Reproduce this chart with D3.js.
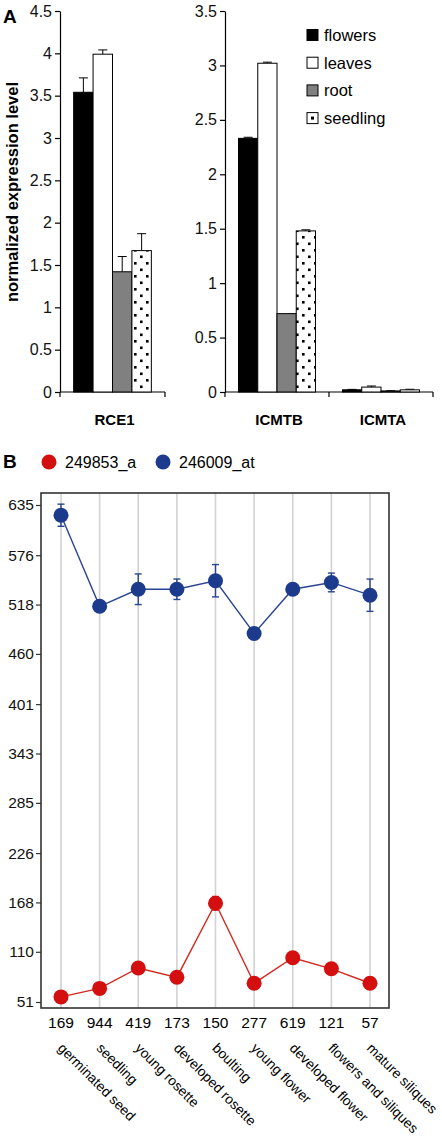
<!DOCTYPE html>
<html><head><meta charset="utf-8">
<script src="https://cdn.jsdelivr.net/npm/d3@7"></script>
<style>
html,body{margin:0;padding:0;background:#fff;}
svg{display:block;font-family:Arial,"Liberation Sans",Helvetica,sans-serif;}
</style></head>
<body>
<svg id="chart" width="442" height="1146"></svg>
<script>
// ---------- Panel A data ----------
const tissues = ["flowers", "leaves", "root", "seedling"];
const genesLeft = ["RCE1"];
const genesRight = ["ICMTB", "ICMTA"];
const rce1 = [3.54, 3.99, 1.42, 1.67];
const rce1Err = [0.17, 0.05, 0.18, 0.20];
const icmtb = [2.33, 3.02, 0.72, 1.48];
const icmtbErr = [0.01, 0.01, 0.0, 0.01];
const icmta = [0.02, 0.045, 0.01, 0.02];
const icmtaErr = [0.004, 0.01, 0.002, 0.005];
const ticksLeftA = [0, 0.5, 1, 1.5, 2, 2.5, 3, 3.5, 4, 4.5];
const ticksRightA = [0, 0.5, 1, 1.5, 2, 2.5, 3, 3.5];

// ---------- Panel B data ----------
const stages = ["germinated seed", "seedling", "young rosette", "developed rosette", "boulting",
  "young flower", "developed flower", "flowers and siliques", "mature siliques"];
const sampleCounts = ["169", "944", "419", "173", "150", "277", "619", "121", "57"];
const seriesNames = ["249853_a", "246009_at"];
const red249853 = [57, 67, 91, 80, 167, 73, 103, 90, 73];
const red249853Err = [1, 1, 1, 1, 8, 1, 1, 1, 1];
const blue246009 = [623, 516, 536, 536, 546, 484, 536, 544, 529];
const blue246009Err = [13, 2, 18, 12, 19, 4, 2, 11, 19];
const ticksB = [51, 110, 168, 226, 285, 343, 401, 460, 518, 576, 635];

const svg = d3.select("#chart");
const FONT = 'Arial,"Liberation Sans",Helvetica,sans-serif';

// pattern for seedling
const defs = svg.append("defs");
const pat = defs.append("pattern").attr("id", "dots").attr("patternUnits", "userSpaceOnUse")
  .attr("width", 12).attr("height", 13);
pat.append("rect").attr("width", 12).attr("height", 13).attr("fill", "#fff");
pat.append("rect").attr("x", 2).attr("y", 2).attr("width", 2.6).attr("height", 2.6).attr("fill", "#000");
pat.append("rect").attr("x", 8).attr("y", 8.5).attr("width", 2.6).attr("height", 2.6).attr("fill", "#000");

const fills = {flowers: "#000", leaves: "#fff", root: "#808080", seedling: "url(#dots)"};

// ---------- Panel A ----------
const yTop = 11, yBase = 392;
const yL = d3.scaleLinear().domain([0, 4.5]).range([yBase, yTop]);
const yR = d3.scaleLinear().domain([0, 3.5]).range([yBase, yTop]);
const xL = d3.scaleBand().domain(genesLeft).range([60, 165]).paddingInner(0.26).paddingOuter(0.13);
const xR = d3.scaleBand().domain(genesRight).range([225, 433]).paddingInner(0.26).paddingOuter(0.13);

function panelA(xs, ys, genes, valsByGene, errsByGene, ticks, axisX, fmt) {
  const g = svg.append("g");
  const ax = d3.axisLeft(ys).tickValues(ticks).tickSize(5).tickSizeOuter(0).tickPadding(3)
    .tickFormat(fmt);
  const ag = g.append("g").attr("transform", `translate(${axisX},0)`).call(ax);
  ag.selectAll("path,line").attr("stroke", "#000").attr("stroke-width", 1.2);
  ag.selectAll("text").attr("font-size", 16).attr("font-family", FONT).attr("fill", "#111");
  const r = xs.range();
  g.append("line").attr("x1", r[0]).attr("x2", r[1]).attr("y1", yBase).attr("y2", yBase)
    .attr("stroke", "#000").attr("stroke-width", 1.2);
  const bounds = [r[0]];
  genes.forEach(gn => bounds.push(xs(gn) + xs.bandwidth() + xs.step() * xs.paddingInner() / 2));
  bounds[bounds.length - 1] = r[1];
  bounds.forEach(b => g.append("line").attr("x1", b).attr("x2", b).attr("y1", yBase).attr("y2", yBase + 5)
    .attr("stroke", "#000").attr("stroke-width", 1.2));
  genes.forEach((gn, gi) => {
    const sub = d3.scaleBand().domain(tissues).range([xs(gn), xs(gn) + xs.bandwidth()]);
    tissues.forEach((t, ti) => {
      const v = valsByGene[gi][ti], e = errsByGene[gi][ti];
      const x0 = sub(t), w = sub.bandwidth();
      if (e > 0) {
        g.append("line").attr("x1", x0 + w / 2).attr("x2", x0 + w / 2)
          .attr("y1", ys(v)).attr("y2", ys(v + e)).attr("stroke", "#000").attr("stroke-width", 1);
        g.append("line").attr("x1", x0 + w / 2 - 4.5).attr("x2", x0 + w / 2 + 4.5)
          .attr("y1", ys(v + e)).attr("y2", ys(v + e)).attr("stroke", "#000").attr("stroke-width", 1);
      }
      g.append("rect").attr("x", x0).attr("y", ys(v)).attr("width", w).attr("height", yBase - ys(v))
        .attr("fill", fills[t]).attr("stroke", "#000").attr("stroke-width", 1);
    });
    g.append("text").attr("x", xs(gn) + xs.bandwidth() / 2 + 2).attr("y", 425)
      .attr("text-anchor", "middle").attr("font-size", 15).attr("font-weight", "bold")
      .attr("font-family", FONT).text(gn);
  });
}
panelA(xL, yL, genesLeft, [rce1], [rce1Err], ticksLeftA, 60, d3.format(""));
panelA(xR, yR, genesRight, [icmtb, icmta], [icmtbErr, icmtaErr], ticksRightA, 225, d3.format(""));

svg.append("text").attr("transform", "translate(18,192) rotate(-90)")
  .attr("text-anchor", "middle").attr("font-size", 16.5).attr("font-weight", "bold")
  .attr("font-family", FONT).text("normalized expression level");
svg.append("text").attr("x", 3).attr("y", 23).attr("font-size", 19).attr("font-weight", "bold")
  .attr("font-family", FONT).text("A");

const legA = svg.append("g");
tissues.forEach((t, i) => {
  const yy = 35 + i * 27.7;
  legA.append("rect").attr("x", 307).attr("y", yy - 5.5).attr("width", 11).attr("height", 11)
    .attr("fill", t === "seedling" ? "#fff" : fills[t]).attr("stroke", "#000").attr("stroke-width", 1);
  if (t === "seedling") legA.append("rect").attr("x", 311).attr("y", yy - 1.5).attr("width", 3).attr("height", 3).attr("fill", "#000");
  legA.append("text").attr("x", 324).attr("y", yy + 6).attr("font-size", 16.5)
    .attr("font-family", FONT).text(t);
});

// ---------- Panel B ----------
const colors = ["#d30f0f", "#1c3b8d"];
const lineColors = ["#d3281e", "#2a4590"];
const boxL = 41, boxR = 389, boxT = 493, boxB = 1008;
const yB = d3.scaleLinear().domain([51, 635]).range([1002, 505]);
const xB = d3.scalePoint().domain(stages).range([61, 370]);

svg.append("text").attr("x", 3).attr("y", 468).attr("font-size", 19).attr("font-weight", "bold")
  .attr("font-family", FONT).text("B");
const legBx = [49, 163];
seriesNames.forEach((s, i) => {
  svg.append("circle").attr("cx", legBx[i]).attr("cy", 462).attr("r", 7.5).attr("fill", colors[i]);
  svg.append("text").attr("x", legBx[i] + 16).attr("y", 467.5).attr("font-size", 16)
    .attr("font-family", FONT).text(s);
});

stages.forEach(s => svg.append("line").attr("x1", xB(s)).attr("x2", xB(s)).attr("y1", boxT).attr("y2", boxB)
  .attr("stroke", "#d2d2d2").attr("stroke-width", 1.6));
svg.append("rect").attr("x", boxL).attr("y", boxT).attr("width", boxR - boxL).attr("height", boxB - boxT)
  .attr("fill", "none").attr("stroke", "#333").attr("stroke-width", 1.6);
const axB = d3.axisLeft(yB).tickValues(ticksB).tickSize(5).tickSizeOuter(0).tickPadding(2);
const agB = svg.append("g").attr("transform", `translate(${boxL},0)`).call(axB);
agB.select(".domain").remove();
agB.selectAll("line").attr("stroke", "#333").attr("stroke-width", 1.2);
agB.selectAll("text").attr("font-size", 15.5).attr("font-family", FONT).attr("fill", "#111");

stages.forEach((s, i) => svg.append("text").attr("x", xB(s)).attr("y", 1028).attr("text-anchor", "middle")
  .attr("font-size", 15.5).attr("font-family", FONT).text(sampleCounts[i]));
stages.forEach(s => svg.append("text").attr("transform", `translate(${xB(s) - 4},1049) rotate(45)`)
  .attr("font-size", 13.8).attr("font-family", FONT).text(s));

[[red249853, red249853Err], [blue246009, blue246009Err]].forEach(([vals, errs], si) => {
  const g = svg.append("g");
  const line = d3.line().x((d, i) => xB(stages[i])).y(d => yB(d));
  g.append("path").attr("d", line(vals)).attr("fill", "none").attr("stroke", lineColors[si]).attr("stroke-width", 1.4);
  vals.forEach((v, i) => {
    const x = xB(stages[i]), e = errs[i];
    g.append("line").attr("x1", x).attr("x2", x).attr("y1", yB(v - e)).attr("y2", yB(v + e))
      .attr("stroke", lineColors[si]).attr("stroke-width", 1.4);
    [v - e, v + e].forEach(c => g.append("line").attr("x1", x - 3.5).attr("x2", x + 3.5)
      .attr("y1", yB(c)).attr("y2", yB(c)).attr("stroke", lineColors[si]).attr("stroke-width", 1.4));
  });
  vals.forEach((v, i) => g.append("circle").attr("cx", xB(stages[i])).attr("cy", yB(v)).attr("r", 7.5)
    .attr("fill", colors[si]));
});
</script>
</body></html>
